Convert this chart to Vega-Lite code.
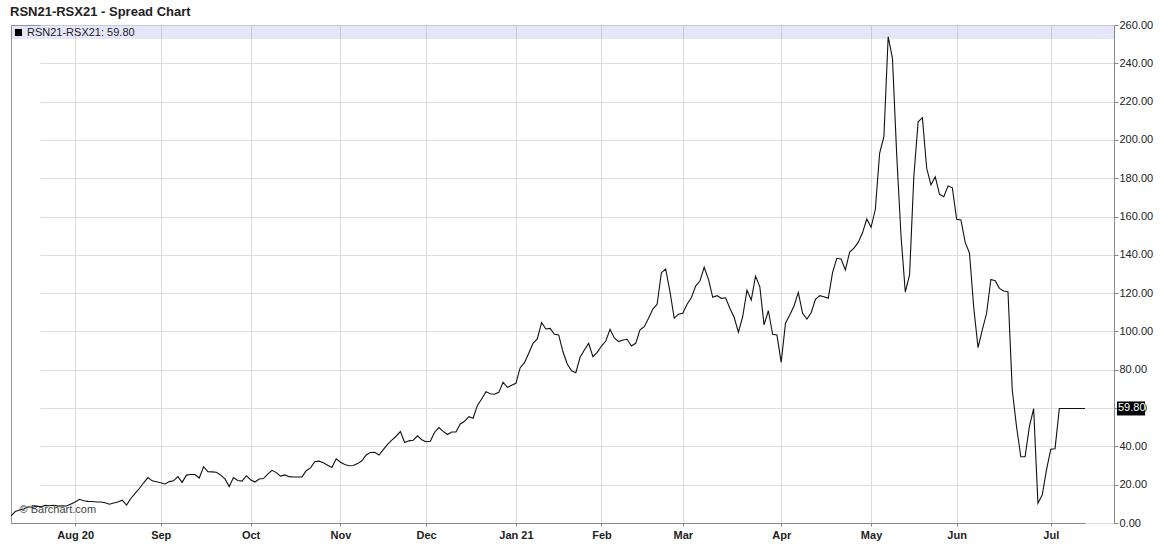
{
  "$schema": "https://vega.github.io/schema/vega-lite/v6.json",
  "autosize": {"type": "none"},
  "padding": {"left": 11, "top": 25, "right": 46, "bottom": 30},
  "width": 1103,
  "height": 498,
  "background": "white",
  "title": {
    "text": "RSN21-RSX21 - Spread Chart",
    "anchor": "start",
    "frame": "group",
    "baseline": "alphabetic",
    "offset": 8,
    "dy": 18,
    "dx": -1,
    "font": "Liberation Sans",
    "fontSize": 13,
    "fontWeight": "bold",
    "color": "#222222"
  },
  "config": {
    "font": "Liberation Sans",
    "view": {"stroke": "#999999", "strokeWidth": 1},
    "axis": {
      "gridColor": "#dddddd",
      "gridWidth": 1,
      "domainColor": "#888888",
      "tickColor": "#888888",
      "labelFont": "Liberation Sans",
      "labelFontSize": 11,
      "labelColor": "#222222"
    }
  },
  "datasets": {
    "note": [{"k": 1}]
  },
  "data": {
    "values": [
      {"d": "2020-07-13", "v": 3.7}, {"d": "2020-07-14", "v": 6.0}, {"d": "2020-07-15", "v": 6.8}, {"d": "2020-07-16", "v": 7.3}, {"d": "2020-07-17", "v": 8.5},
      {"d": "2020-07-20", "v": 8.2}, {"d": "2020-07-21", "v": 8.8}, {"d": "2020-07-22", "v": 8.5}, {"d": "2020-07-23", "v": 9.2}, {"d": "2020-07-24", "v": 9.0},
      {"d": "2020-07-27", "v": 9.3}, {"d": "2020-07-28", "v": 8.8}, {"d": "2020-07-29", "v": 9.0}, {"d": "2020-07-30", "v": 8.9}, {"d": "2020-07-31", "v": 9.9},
      {"d": "2020-08-04", "v": 11.0}, {"d": "2020-08-05", "v": 12.4}, {"d": "2020-08-06", "v": 11.6}, {"d": "2020-08-07", "v": 11.3},
      {"d": "2020-08-10", "v": 11.2}, {"d": "2020-08-11", "v": 11.0}, {"d": "2020-08-12", "v": 11.0}, {"d": "2020-08-13", "v": 10.6}, {"d": "2020-08-14", "v": 9.8},
      {"d": "2020-08-17", "v": 10.4}, {"d": "2020-08-18", "v": 11.0}, {"d": "2020-08-19", "v": 11.9}, {"d": "2020-08-20", "v": 9.4}, {"d": "2020-08-21", "v": 12.8},
      {"d": "2020-08-24", "v": 15.5}, {"d": "2020-08-25", "v": 18.0}, {"d": "2020-08-26", "v": 21.0}, {"d": "2020-08-27", "v": 23.7}, {"d": "2020-08-28", "v": 22.0},
      {"d": "2020-08-31", "v": 21.5},
      {"d": "2020-09-01", "v": 21.0}, {"d": "2020-09-02", "v": 20.4}, {"d": "2020-09-03", "v": 21.6}, {"d": "2020-09-04", "v": 22.0},
      {"d": "2020-09-08", "v": 24.2}, {"d": "2020-09-09", "v": 21.2}, {"d": "2020-09-10", "v": 25.0}, {"d": "2020-09-11", "v": 25.3},
      {"d": "2020-09-14", "v": 25.3}, {"d": "2020-09-15", "v": 23.5}, {"d": "2020-09-16", "v": 29.4}, {"d": "2020-09-17", "v": 26.8}, {"d": "2020-09-18", "v": 26.7},
      {"d": "2020-09-21", "v": 26.5}, {"d": "2020-09-22", "v": 25.0}, {"d": "2020-09-23", "v": 23.0}, {"d": "2020-09-24", "v": 19.0}, {"d": "2020-09-25", "v": 23.7},
      {"d": "2020-09-28", "v": 22.2}, {"d": "2020-09-29", "v": 21.9}, {"d": "2020-09-30", "v": 24.7},
      {"d": "2020-10-01", "v": 22.6}, {"d": "2020-10-02", "v": 21.4},
      {"d": "2020-10-05", "v": 23.0}, {"d": "2020-10-06", "v": 23.2}, {"d": "2020-10-07", "v": 25.5}, {"d": "2020-10-08", "v": 27.5}, {"d": "2020-10-09", "v": 26.3},
      {"d": "2020-10-13", "v": 24.5}, {"d": "2020-10-14", "v": 25.1}, {"d": "2020-10-15", "v": 24.2}, {"d": "2020-10-16", "v": 24.0},
      {"d": "2020-10-19", "v": 24.0}, {"d": "2020-10-20", "v": 24.1}, {"d": "2020-10-21", "v": 27.3}, {"d": "2020-10-22", "v": 28.8}, {"d": "2020-10-23", "v": 32.0},
      {"d": "2020-10-26", "v": 32.3}, {"d": "2020-10-27", "v": 31.5}, {"d": "2020-10-28", "v": 30.2}, {"d": "2020-10-29", "v": 29.0}, {"d": "2020-10-30", "v": 33.5},
      {"d": "2020-11-02", "v": 31.7}, {"d": "2020-11-03", "v": 30.5}, {"d": "2020-11-04", "v": 29.9}, {"d": "2020-11-05", "v": 30.0}, {"d": "2020-11-06", "v": 31.0},
      {"d": "2020-11-09", "v": 32.5}, {"d": "2020-11-10", "v": 35.5}, {"d": "2020-11-12", "v": 36.8}, {"d": "2020-11-13", "v": 36.9},
      {"d": "2020-11-16", "v": 35.5}, {"d": "2020-11-17", "v": 38.3}, {"d": "2020-11-18", "v": 41.0}, {"d": "2020-11-19", "v": 43.3}, {"d": "2020-11-20", "v": 45.3},
      {"d": "2020-11-23", "v": 47.7}, {"d": "2020-11-24", "v": 42.0}, {"d": "2020-11-25", "v": 42.9}, {"d": "2020-11-26", "v": 43.2}, {"d": "2020-11-27", "v": 45.5},
      {"d": "2020-11-30", "v": 43.5},
      {"d": "2020-12-01", "v": 42.4}, {"d": "2020-12-02", "v": 42.7}, {"d": "2020-12-03", "v": 47.4}, {"d": "2020-12-04", "v": 49.8},
      {"d": "2020-12-07", "v": 47.8}, {"d": "2020-12-08", "v": 46.2}, {"d": "2020-12-09", "v": 47.5}, {"d": "2020-12-10", "v": 47.5}, {"d": "2020-12-11", "v": 51.7},
      {"d": "2020-12-14", "v": 53.1}, {"d": "2020-12-15", "v": 55.5}, {"d": "2020-12-16", "v": 54.7}, {"d": "2020-12-17", "v": 61.4}, {"d": "2020-12-18", "v": 64.7},
      {"d": "2020-12-21", "v": 68.6}, {"d": "2020-12-22", "v": 67.5}, {"d": "2020-12-23", "v": 67.2}, {"d": "2020-12-24", "v": 68.2},
      {"d": "2020-12-29", "v": 73.5}, {"d": "2020-12-30", "v": 70.8}, {"d": "2020-12-31", "v": 71.9},
      {"d": "2021-01-04", "v": 72.9}, {"d": "2021-01-05", "v": 81.1}, {"d": "2021-01-06", "v": 83.7}, {"d": "2021-01-07", "v": 88.6}, {"d": "2021-01-08", "v": 93.8},
      {"d": "2021-01-11", "v": 96.1}, {"d": "2021-01-12", "v": 104.6}, {"d": "2021-01-13", "v": 101.3}, {"d": "2021-01-14", "v": 101.6}, {"d": "2021-01-15", "v": 98.5},
      {"d": "2021-01-18", "v": 98.2}, {"d": "2021-01-19", "v": 89.4}, {"d": "2021-01-20", "v": 83.0}, {"d": "2021-01-21", "v": 79.5}, {"d": "2021-01-22", "v": 78.5},
      {"d": "2021-01-25", "v": 86.5}, {"d": "2021-01-26", "v": 90.3}, {"d": "2021-01-27", "v": 93.8}, {"d": "2021-01-28", "v": 86.8}, {"d": "2021-01-29", "v": 89.1},
      {"d": "2021-02-01", "v": 92.4}, {"d": "2021-02-02", "v": 95.0}, {"d": "2021-02-03", "v": 101.1}, {"d": "2021-02-04", "v": 96.6}, {"d": "2021-02-05", "v": 94.7},
      {"d": "2021-02-08", "v": 95.5}, {"d": "2021-02-09", "v": 95.9}, {"d": "2021-02-10", "v": 92.4}, {"d": "2021-02-11", "v": 93.8}, {"d": "2021-02-12", "v": 100.8},
      {"d": "2021-02-16", "v": 102.5}, {"d": "2021-02-17", "v": 106.9}, {"d": "2021-02-18", "v": 111.7}, {"d": "2021-02-19", "v": 114.2},
      {"d": "2021-02-22", "v": 130.7}, {"d": "2021-02-23", "v": 132.6}, {"d": "2021-02-24", "v": 120.8}, {"d": "2021-02-25", "v": 106.9}, {"d": "2021-02-26", "v": 109.0},
      {"d": "2021-03-01", "v": 109.5}, {"d": "2021-03-02", "v": 114.2}, {"d": "2021-03-03", "v": 117.6}, {"d": "2021-03-04", "v": 123.7}, {"d": "2021-03-05", "v": 126.3},
      {"d": "2021-03-08", "v": 133.5}, {"d": "2021-03-09", "v": 127.2}, {"d": "2021-03-10", "v": 117.8}, {"d": "2021-03-11", "v": 118.7}, {"d": "2021-03-12", "v": 117.3},
      {"d": "2021-03-15", "v": 117.6}, {"d": "2021-03-16", "v": 112.1}, {"d": "2021-03-17", "v": 107.4}, {"d": "2021-03-18", "v": 99.6}, {"d": "2021-03-19", "v": 107.7},
      {"d": "2021-03-22", "v": 121.6}, {"d": "2021-03-23", "v": 116.4}, {"d": "2021-03-24", "v": 128.9}, {"d": "2021-03-25", "v": 123.4}, {"d": "2021-03-26", "v": 103.4},
      {"d": "2021-03-29", "v": 110.8}, {"d": "2021-03-30", "v": 98.5}, {"d": "2021-03-31", "v": 98.2},
      {"d": "2021-04-01", "v": 83.9},
      {"d": "2021-04-05", "v": 104.3}, {"d": "2021-04-06", "v": 108.6}, {"d": "2021-04-07", "v": 113.3}, {"d": "2021-04-08", "v": 120.4}, {"d": "2021-04-09", "v": 109.5},
      {"d": "2021-04-12", "v": 106.5}, {"d": "2021-04-13", "v": 109.8}, {"d": "2021-04-14", "v": 116.8}, {"d": "2021-04-15", "v": 118.7}, {"d": "2021-04-16", "v": 118.1},
      {"d": "2021-04-19", "v": 117.3}, {"d": "2021-04-20", "v": 130.7}, {"d": "2021-04-21", "v": 138.2}, {"d": "2021-04-22", "v": 137.8}, {"d": "2021-04-23", "v": 132.1},
      {"d": "2021-04-26", "v": 141.5}, {"d": "2021-04-27", "v": 143.5}, {"d": "2021-04-28", "v": 146.5}, {"d": "2021-04-29", "v": 151.5}, {"d": "2021-04-30", "v": 158.7},
      {"d": "2021-05-03", "v": 154.4}, {"d": "2021-05-04", "v": 163.8}, {"d": "2021-05-05", "v": 193.0}, {"d": "2021-05-06", "v": 201.7}, {"d": "2021-05-07", "v": 253.9},
      {"d": "2021-05-10", "v": 242.6}, {"d": "2021-05-11", "v": 192.0}, {"d": "2021-05-12", "v": 150.0}, {"d": "2021-05-13", "v": 120.6}, {"d": "2021-05-14", "v": 129.5},
      {"d": "2021-05-17", "v": 181.0}, {"d": "2021-05-18", "v": 209.5}, {"d": "2021-05-19", "v": 211.6}, {"d": "2021-05-20", "v": 185.2}, {"d": "2021-05-21", "v": 176.5},
      {"d": "2021-05-25", "v": 180.8}, {"d": "2021-05-26", "v": 171.6}, {"d": "2021-05-27", "v": 170.4}, {"d": "2021-05-28", "v": 176.0},
      {"d": "2021-05-31", "v": 175.0},
      {"d": "2021-06-01", "v": 158.6}, {"d": "2021-06-02", "v": 158.2}, {"d": "2021-06-03", "v": 146.5}, {"d": "2021-06-04", "v": 141.0},
      {"d": "2021-06-07", "v": 112.5}, {"d": "2021-06-08", "v": 91.5}, {"d": "2021-06-09", "v": 100.8}, {"d": "2021-06-10", "v": 109.5}, {"d": "2021-06-11", "v": 127.2},
      {"d": "2021-06-14", "v": 126.5}, {"d": "2021-06-15", "v": 122.5}, {"d": "2021-06-16", "v": 121.1}, {"d": "2021-06-17", "v": 120.8}, {"d": "2021-06-18", "v": 69.4},
      {"d": "2021-06-21", "v": 50.3}, {"d": "2021-06-22", "v": 34.6}, {"d": "2021-06-23", "v": 34.6}, {"d": "2021-06-24", "v": 50.3}, {"d": "2021-06-25", "v": 59.7},
      {"d": "2021-06-28", "v": 10.3}, {"d": "2021-06-29", "v": 14.6}, {"d": "2021-06-30", "v": 27.7},
      {"d": "2021-07-02", "v": 38.5},
      {"d": "2021-07-05", "v": 38.8}, {"d": "2021-07-06", "v": 59.8}, {"d": "2021-07-07", "v": 59.8}, {"d": "2021-07-08", "v": 59.8}, {"d": "2021-07-09", "v": 59.8},
      {"d": "2021-07-12", "v": 59.8}, {"d": "2021-07-13", "v": 59.8}, {"d": "2021-07-14", "v": 59.8}
    ]
  },
  "layer": [
    {
      "mark": {"type": "line", "strokeWidth": 1.1, "interpolate": "linear"},
      "encoding": {
        "x": {
          "field": "d",
          "type": "ordinal",
          "scale": {"type": "point", "padding": 0, "range": [0, 1074]},
          "axis": {
            "title": null,
            "grid": true,
            "labelAngle": 0,
            "labelFontWeight": "bold",
            "labelPadding": 3,
            "tickSize": 3,
            "values": ["2020-08-04", "2020-09-01", "2020-10-01", "2020-11-02", "2020-12-01", "2021-01-04", "2021-02-01", "2021-03-01", "2021-04-01", "2021-05-03", "2021-06-01", "2021-07-02"],
            "labelExpr": "datum.value == '2020-08-04' ? 'Aug 20' : datum.value == '2021-01-04' ? 'Jan 21' : utcFormat(toDate(datum.value), '%b')"
          }
        },
        "y": {
          "field": "v",
          "type": "quantitative",
          "scale": {"domain": [0, 260], "nice": false},
          "axis": {
            "orient": "right",
            "title": null,
            "grid": true,
            "format": ".2f",
            "tickSize": 4,
            "labelPadding": 1,
            "labelOverlap": false,
            "tickCount": 30,
            "values": [0, 20, 40, 60, 80, 100, 120, 140, 160, 180, 200, 220, 240, 260]
          }
        },
        "color": {
          "datum": "RSN21-RSX21: 59.80",
          "scale": {"range": ["#111111"]},
          "legend": {
            "title": null,
            "orient": "top-left",
            "offset": 2,
            "padding": 0,
            "symbolType": "square",
            "symbolSize": 50,
            "labelFontSize": 11,
            "labelColor": "#222222",
            "labelOffset": 3,
            "encode": {
              "symbols": {"update": {"fill": {"value": "#000000"}, "stroke": {"value": "#000000"}, "shape": {"value": "square"}, "strokeWidth": {"value": 0}}}
            }
          }
        }
      }
    },
    {
      "data": {"name": "note"},
      "mark": {"type": "rect", "fill": "#5858de", "opacity": 0.15},
      "encoding": {
        "x": {"value": 0},
        "x2": {"value": "width"},
        "y": {"datum": 260},
        "y2": {"datum": 252.7}
      }
    },
    {
      "data": {"name": "note"},
      "mark": {"type": "text", "text": "© Barchart.com", "align": "left", "baseline": "middle", "fontSize": 11, "fill": "#444444"},
      "encoding": {
        "x": {"datum": "2020-07-15"},
        "y": {"datum": 6.8}
      }
    },
    {
      "data": {"name": "note"},
      "mark": {"type": "rect", "fill": "#000000", "xOffset": 3, "x2Offset": 31, "yOffset": -7, "y2Offset": 7},
      "encoding": {
        "x": {"value": "width"},
        "x2": {"value": "width"},
        "y": {"datum": 59.8},
        "y2": {"datum": 59.8}
      }
    },
    {
      "data": {"name": "note"},
      "mark": {"type": "text", "text": "59.80", "align": "left", "baseline": "middle", "dx": 4, "fontSize": 11, "fill": "#ffffff"},
      "encoding": {
        "x": {"value": "width"},
        "y": {"datum": 59.8}
      }
    }
  ]
}
